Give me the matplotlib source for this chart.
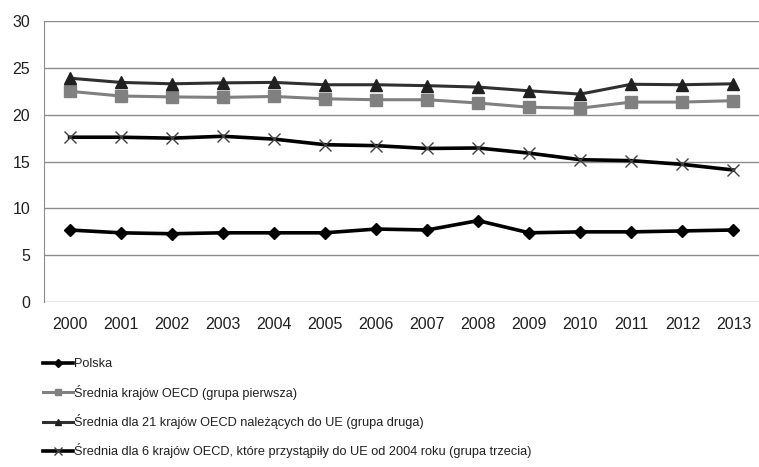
import matplotlib
matplotlib.use("Agg")
import matplotlib.pyplot as plt
from matplotlib import font_manager

years = ["2000", "2001", "2002", "2003", "2004", "2005", "2006",
         "2007", "2008", "2009", "2010", "2011", "2012", "2013"]
polska = [7.7, 7.4, 7.3, 7.4, 7.4, 7.4, 7.8, 7.7, 8.7, 7.4, 7.5, 7.5, 7.6, 7.7]
oecd = [22.5, 22.0, 21.9, 21.85, 21.95, 21.7, 21.6, 21.6, 21.25, 20.8, 20.7, 21.35, 21.35, 21.5]
ue21 = [23.9, 23.45, 23.3, 23.4, 23.45, 23.2, 23.2, 23.1, 22.95, 22.55, 22.2, 23.25, 23.2, 23.3]
grupa3 = [17.6, 17.6, 17.5, 17.7, 17.4, 16.8, 16.7, 16.4, 16.45, 15.9, 15.2, 15.1, 14.7, 14.1]
labels = ["Polska",
          "Średnia krajów OECD (grupa pierwsza)",
          "Średnia dla 21 krajów OECD należących do UE (grupa druga)",
          "Średnia dla 6 krajów OECD, które przystąpiły do UE od 2004 roku (grupa trzecia)"]
yticks = [0, 5, 10, 15, 20, 25, 30]

names = {f.name for f in font_manager.fontManager.ttflist}
base = "Liberation Sans" if "Liberation Sans" in names else "DejaVu Sans"
narrow = "Liberation Sans Narrow" if "Liberation Sans Narrow" in names else base
plt.rcParams['font.family'] = [base, 'DejaVu Sans']

fig = plt.figure(figsize=(7.59, 4.67), dpi=100)
ax = fig.add_axes([0.058, 0.353, 0.942, 0.602])
x = list(range(len(years)))

ax.plot(x, polska, color="black", lw=2.6, marker="D", ms=6.5, mfc="black", mec="black", label=labels[0], zorder=5)
ax.plot(x, oecd, color="#808080", lw=2.2, marker="s", ms=8, mfc="#808080", mec="#808080", label=labels[1], zorder=4)
ax.plot(x, ue21, color="#303030", lw=2.2, marker="^", ms=8, mfc="#202020", mec="#202020", label=labels[2], zorder=4)
ax.plot(x, grupa3, color="black", lw=2.6, marker="x", ms=9, mew=1.0, mec="#404040", label=labels[3], zorder=4)

ax.set_xlim(-0.5, len(years) - 0.5)
ax.set_ylim(0, 30)
ax.set_yticks(yticks)
ax.set_xticks(x)
ax.set_xticklabels(years)
ax.yaxis.grid(True, color="#8c8c8c", lw=1.0)
ax.set_axisbelow(True)
for s in ["top", "right", "bottom"]:
    ax.spines[s].set_visible(False)
ax.spines["left"].set_color("#8c8c8c")
ax.tick_params(axis="both", length=0, labelsize=11.5, colors="#202020")
ax.tick_params(axis="y", pad=10)
ax.tick_params(axis="x", pad=11)

leg = ax.legend(loc="upper left", bbox_to_anchor=(-0.001, -0.2), frameon=False,
                handlelength=2.35, handletextpad=0.05, labelspacing=1.12,
                borderaxespad=0, borderpad=0, markerscale=0.6,
                prop={"family": [narrow, 'DejaVu Sans'], "size": 9.2})
for t in leg.get_texts():
    t.set_color("#202020")

fig.savefig("out.png", dpi=100)
